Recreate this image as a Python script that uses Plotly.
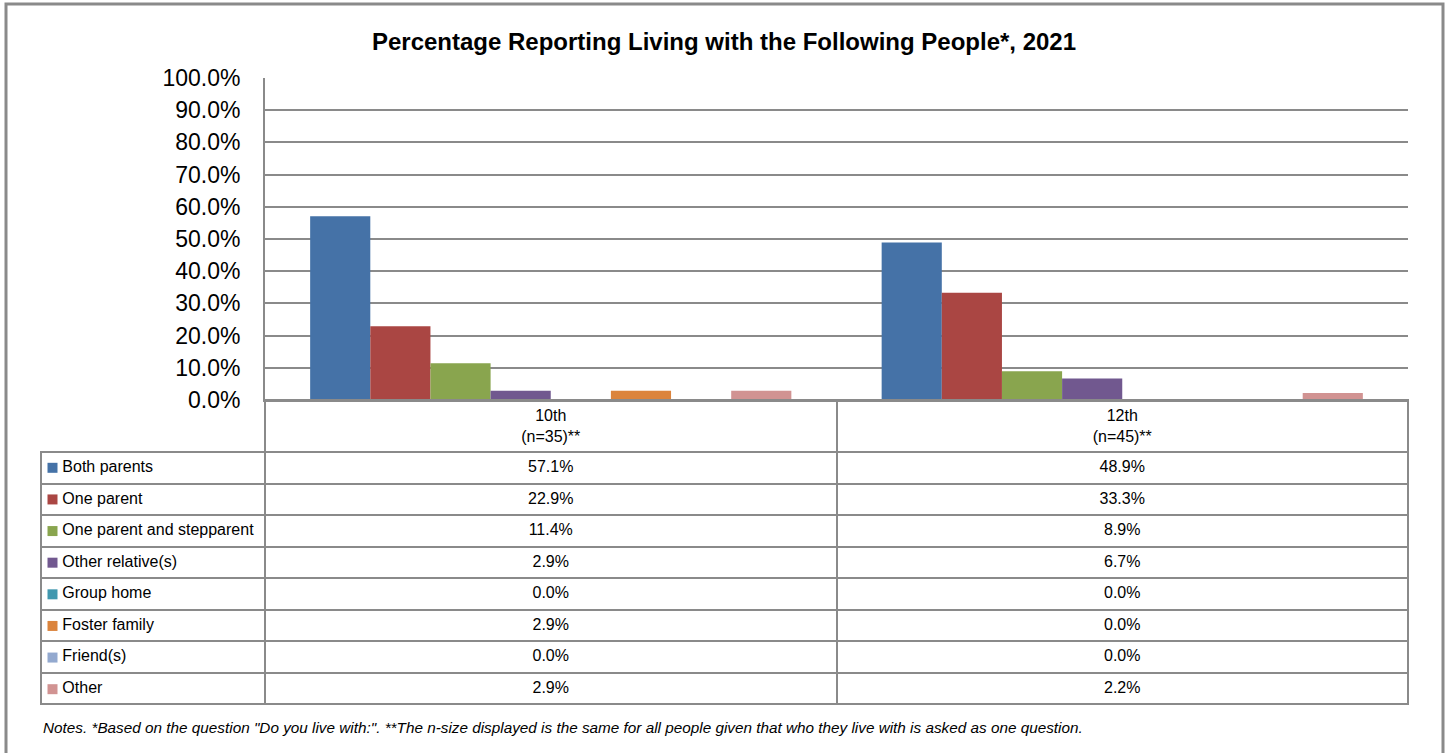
import plotly.graph_objects as go

# ---------------- data ----------------
grades = ["10th", "12th"]
n_sizes = [35, 45]
people = ["Both parents", "One parent", "One parent and stepparent", "Other relative(s)",
          "Group home", "Foster family", "Friend(s)", "Other"]
grade10 = [57.1, 22.9, 11.4, 2.9, 0.0, 2.9, 0.0, 2.9]
grade12 = [48.9, 33.3, 8.9, 6.7, 0.0, 0.0, 0.0, 2.2]
colors = ["#4572A7", "#AA4643", "#89A54E", "#71588F", "#4198AF", "#DB843D", "#93A9CF", "#D19392"]
y_ticks = [0, 10, 20, 30, 40, 50, 60, 70, 80, 90, 100]

title = "Percentage Reporting Living with the Following People*, 2021"
note = ('Notes. *Based on the question "Do you live with:". **The n-size displayed is the same '
        'for all people given that who they live with is asked as one question.')

# ---------------- layout constants (pixels) ----------------
W, H = 1448, 753
FONT = "Liberation Sans, Arial, sans-serif"
GRID = "#8a8a8a"

def px(x):
    return x / W

def py(y):
    return 1 - y / H

plot_left, plot_right, plot_top, plot_bottom = 265, 1408, 78, 400
table_left, table_bottom, header_h, row_h = 41, 705, 52, 31.5
cells_top = plot_bottom + header_h

cat_labels = [f"{g}<br>(n={n})**" for g, n in zip(grades, n_sizes)]

fig = go.Figure()
series_by_grade = [grade10, grade12]
for i, name in enumerate(people):
    fig.add_trace(go.Bar(
        x=cat_labels,
        y=[series_by_grade[g][i] for g in range(len(grades))],
        name=name,
        marker=dict(color=colors[i], line=dict(width=0)),
        showlegend=False,
        hoverinfo="skip",
    ))

# legend keys (coloured squares) in the first column of the data table
fig.add_trace(go.Scatter(
    x=[11.5] * len(people),
    y=[i + 0.5 for i in range(len(people))],
    mode="markers",
    marker=dict(symbol="square", size=10, color=colors, line=dict(width=0)),
    xaxis="x2", yaxis="y2", showlegend=False, hoverinfo="skip",
))

# data table below the chart
NB = "\u00a0"
legend_cells = [NB * 3 + p.replace(" ", NB) for p in people]
fig.add_trace(go.Table(
    domain=dict(x=[px(table_left), px(plot_right)], y=[py(table_bottom) - 0.002, py(plot_bottom)]),
    columnwidth=[plot_left - table_left, (plot_right - plot_left) / 2, (plot_right - plot_left) / 2],
    header=dict(
        values=["", "", ""],
        height=header_h,
        fill=dict(color="rgba(0,0,0,0)"),
        line=dict(color=["rgba(0,0,0,0)", GRID, GRID], width=2),
    ),
    cells=dict(
        values=[legend_cells,
                [f"{v:.1f}%" for v in grade10],
                [f"{v:.1f}%" for v in grade12]],
        height=row_h,
        align=["left", "center", "center"],
        fill=dict(color="rgba(0,0,0,0)"),
        line=dict(color=GRID, width=2),
        font=dict(family=FONT, size=16, color="black"),
    ),
))

fig.update_layout(
    width=W, height=H,
    margin=dict(l=0, r=0, t=0, b=0, autoexpand=False),
    paper_bgcolor="white", plot_bgcolor="white",
    barmode="group", bargap=0.158, bargroupgap=0,
    font=dict(family=FONT, color="black"),
    title=dict(text=f"<b>{title}</b>", x=0.5, xanchor="center", y=py(42), yanchor="middle",
               yref="container", font=dict(family=FONT, size=24, color="black")),
    xaxis=dict(domain=[px(plot_left), px(plot_right)], showline=True, linecolor=GRID, linewidth=2,
               showgrid=False, ticks="", tickfont=dict(size=16, family=FONT), automargin=False,
               fixedrange=True, anchor="y"),
    yaxis=dict(domain=[py(plot_bottom), py(plot_top)], range=[0, 100], tickvals=y_ticks,
               ticktext=[f"{v:.1f}%" for v in y_ticks], automargin=False, fixedrange=True,
               showline=True, linecolor=GRID, linewidth=2, showgrid=True, gridcolor=GRID,
               gridwidth=2, zeroline=False, ticks="", ticklabelstandoff=18,
               tickfont=dict(size=23, family=FONT)),
    xaxis2=dict(domain=[px(table_left), px(plot_left)], range=[0, plot_left - table_left],
                visible=False, anchor="y2", fixedrange=True),
    yaxis2=dict(domain=[py(table_bottom), py(cells_top)], range=[len(people), 0],
                visible=False, anchor="x2", fixedrange=True),
    shapes=[dict(type="rect", xref="paper", yref="paper", x0=px(6), x1=px(1443), y0=-0.05, y1=py(4),
                 line=dict(color=GRID, width=3), fillcolor="rgba(0,0,0,0)", layer="below")],
    annotations=[dict(text=f"<i>{note}</i>", xref="paper", yref="paper", x=px(table_left), y=py(727),
                      xanchor="left", yanchor="middle", showarrow=False,
                      font=dict(family=FONT, size=15.3, color="black"))],
)

fig.write_html("out.html", config={"displayModeBar": False},
               post_script="document.body.style.margin='0';document.body.style.overflow='hidden';")
